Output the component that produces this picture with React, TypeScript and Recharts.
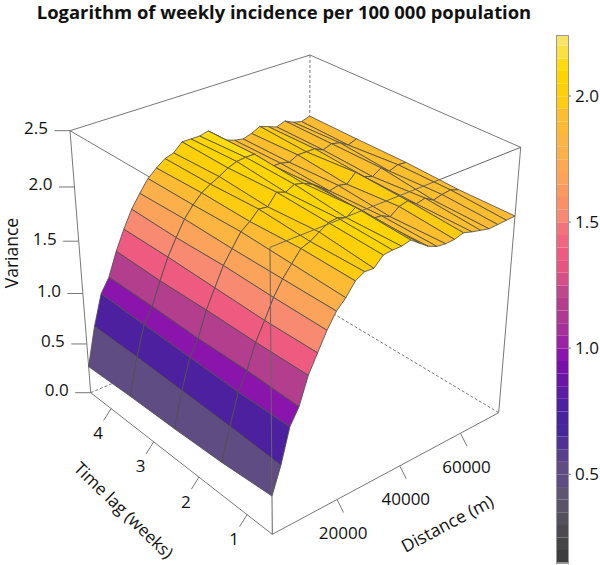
import React from 'react';
import { ScatterChart, Scatter, XAxis, YAxis, ComposedChart, Bar } from 'recharts';

const FONT = '"Open Sans", sans-serif';

// distance bins (m) and the lag edges of the surface strips
const distances = [0, 2700, 5400, 8100, 10800, 13500, 16200, 18900, 21600, 24300, 27000, 29700, 32400, 35100, 37800, 40500, 43200, 45900, 48600, 51300, 54000, 56700, 59400, 62100, 64800, 67500, 70200, 72900];
const lags = [0.5, 1.5, 2.5, 3.5, 4.5];

// variance per lag edge, one value per distance bin
const lag05 = [0.36, 0.6, 0.91, 1.05, 1.29, 1.45, 1.61, 1.74, 1.82, 1.93, 1.975, 1.97, 2.05, 2.06, 2.06, 2.08, 2.02, 1.96, 1.925, 1.915, 1.92, 1.945, 1.92, 1.9, 1.88, 1.885, 1.89, 1.895];
const lag15 = [0.32, 0.62, 0.9, 1.06, 1.28, 1.44, 1.61, 1.74, 1.84, 1.94, 1.97, 2.02, 2.07, 2.08, 2.05, 2.11, 2.04, 1.95, 1.94, 1.9, 1.96, 1.98, 1.92, 1.94, 1.89, 1.91, 1.92, 1.89];
const lag25 = [0.3, 0.63, 0.91, 1.05, 1.28, 1.45, 1.62, 1.74, 1.86, 1.92, 2.0, 1.99, 2.09, 2.06, 2.1, 2.08, 2.04, 1.98, 1.92, 1.94, 1.92, 2.0, 1.93, 1.9, 1.95, 1.89, 1.92, 1.91];
const lag35 = [0.29, 0.64, 0.92, 1.06, 1.27, 1.46, 1.61, 1.75, 1.85, 1.93, 1.98, 2.02, 2.07, 2.1, 2.11, 2.11, 2.02, 1.94, 1.94, 1.92, 1.96, 1.96, 1.96, 1.92, 1.95, 1.93, 1.88, 1.91];
const lag45 = [0.27, 0.64, 0.93, 1.06, 1.28, 1.46, 1.62, 1.74, 1.85, 1.92, 1.98, 2.005, 2.08, 2.08, 2.08, 2.1, 2.03, 1.96, 1.93, 1.915, 1.94, 1.98, 1.95, 1.92, 1.95, 1.91, 1.89, 1.915];
const surface = [lag05, lag15, lag25, lag35, lag45];

const varianceTicks = [0, 0.5, 1, 1.5, 2, 2.5];
const lagTicks = [1, 2, 3, 4];
const distanceTicks = [20000, 40000, 60000];
const colorbarTicks = [0.5, 1, 1.5, 2];

// colour scale: lower edge of each band and its colour
const levels = [0.15, 0.2, 0.25, 0.3, 0.35, 0.4, 0.45, 0.5, 0.55, 0.6, 0.65, 0.7, 0.75, 0.8, 0.85, 0.9, 0.95, 1.0, 1.05, 1.1, 1.15, 1.2, 1.25, 1.3, 1.35, 1.4, 1.45, 1.5, 1.55, 1.6, 1.65, 1.7, 1.75, 1.8, 1.85, 1.9, 1.95, 2.0, 2.05, 2.1, 2.15, 2.2];
const palette = ['#3d3d3f', '#454446', '#4c4a50', '#54505c', '#5b5468', '#5f5573', '#5e4c83', '#5e4c83', '#573f8c', '#503296', '#47289b', '#46249e', '#4d20a0', '#5c1ca4', '#6a14a8', '#7a10aa', '#8a14ac', '#9a24a4', '#a8309a', '#b03a92', '#b43e8e', '#c0478b', '#d84e86', '#e85482', '#ef5a80', '#f26580', '#f5717c', '#f88a72', '#f99068', '#fa9a60', '#fba35a', '#fbaa52', '#fbb04a', '#fbb540', '#fcbb33', '#fcbe2c', '#fdcb10', '#fed008', '#ffd500', '#ffdc10', '#fae040', '#f8e268'];

const colorFor = (v: number) => {
  let i = 0;
  while (i < palette.length - 1 && v >= levels[i + 1]) i++;
  return palette[i];
};

// box corners on screen: [distance end][lag end][variance end]
const corners = [
  [[[272.3, 534.3], [270, 247.3]], [[90.7, 392.7], [70, 130.7]]],
  [[[498.7, 412.7], [520.7, 147.3]], [[309, 299], [310, 55]]],
];
const maxDistance = 72900;
const warp = (t: number, k: number) => (t * k) / (1 + t * (k - 1));

function project(distance: number, lag: number, variance: number, dx = 0, dy = 0) {
  const a = warp(distance / maxDistance, 1.06);
  const b = warp((lag - 0.5) / 4, 1.13);
  const c = warp(variance / 2.5, 0.914);
  const mix = (k: number) => {
    let s = 0;
    for (const [i, wa] of [[0, 1 - a], [1, a]] as const)
      for (const [j, wb] of [[0, 1 - b], [1, b]] as const)
        for (const [l, wc] of [[0, 1 - c], [1, c]] as const) s += wa * wb * wc * corners[i][j][l][k];
    return s;
  };
  return { x: mix(0) + dx, y: mix(1) + dy };
}

const noDot = () => <g />;

function segment(key: string, pts: { x: number; y: number }[], stroke = '#777', dash?: string, width = 1) {
  return (
    <Scatter
      key={key}
      data={pts}
      shape={noDot}
      isAnimationActive={false}
      line={(p: any) => (
        <path
          d={'M' + p.points.map((q: any) => `${q.x},${q.y}`).join('L')}
          fill="none"
          stroke={stroke}
          strokeWidth={width}
          strokeDasharray={dash}
        />
      )}
    />
  );
}

function facet(key: string, pts: { x: number; y: number }[], fill: string) {
  return (
    <Scatter
      key={key}
      data={pts}
      shape={noDot}
      isAnimationActive={false}
      line={(p: any) => (
        <path
          d={'M' + p.points.map((q: any) => `${q.x},${q.y}`).join('L') + 'Z'}
          fill={fill}
          stroke="#504e4c"
          strokeWidth={0.85}
          strokeLinejoin="round"
        />
      )}
    />
  );
}

function label(key: string, text: string, at: { x: number; y: number }, opts: any = {}) {
  const { size = 17, weight = 400, angle = 0, anchor = 'middle' } = opts;
  return (
    <Scatter
      key={key}
      data={[at]}
      isAnimationActive={false}
      shape={(p: any) => (
        <text
          x={p.cx}
          y={p.cy}
          textAnchor={anchor}
          dominantBaseline="central"
          fontFamily={FONT}
          fontSize={size}
          fontWeight={weight}
          fill="#111"
          transform={angle ? `rotate(${angle} ${p.cx} ${p.cy})` : undefined}
        >
          {text}
        </text>
      )}
    />
  );
}

const D = maxDistance;
const L0 = lags[0];
const L1 = lags[lags.length - 1];

function surfaceFacets() {
  const out: React.ReactElement[] = [];
  for (let i = distances.length - 2; i >= 0; i--) {
    for (let j = lags.length - 2; j >= 0; j--) {
      const v = [surface[j][i], surface[j][i + 1], surface[j + 1][i + 1], surface[j + 1][i]];
      const mean = (v[0] + v[1] + v[2] + v[3]) / 4;
      out.push(
        facet(`f${i}-${j}`, [
          project(distances[i], lags[j], v[0]),
          project(distances[i + 1], lags[j], v[1]),
          project(distances[i + 1], lags[j + 1], v[2]),
          project(distances[i], lags[j + 1], v[3]),
        ], colorFor(mean)),
      );
    }
  }
  return out;
}

// colour bar: one stacked segment per band, starting from the bar's lower limit
const barMin = 0.149;
const barMax = 2.242;
const barRow: Record<string, number> = { base: barMin };
palette.forEach((_, i) => {
  const lo = Math.max(levels[i], barMin);
  const hi = i + 1 < levels.length ? levels[i + 1] : barMax;
  barRow[`b${i}`] = hi - lo;
});

export default function App() {
  return (
    <div style={{ position: 'absolute', left: 0, top: 0, width: 600, height: 565, background: '#fff' }}>
      <ScatterChart width={600} height={565} margin={{ top: 0, right: 0, bottom: 0, left: 0 }} style={{ position: 'absolute', left: 0, top: 0 }}>
        <XAxis type="number" dataKey="x" domain={[0, 600]} hide />
        <YAxis type="number" dataKey="y" domain={[0, 565]} reversed hide />

        {label('title', 'Logarithm of weekly incidence per 100 000 population', { x: 284, y: 11 }, { size: 18.4, weight: 700 })}

        {/* hidden edges of the box */}
        {segment('bk-v', [project(D, L1, 2.5), project(D, L1, 0)], '#777', '3 2')}
        {segment('bk-l', [project(0, L1, 0), project(D, L1, 0)], '#777', '3 2')}
        {segment('bk-r', [project(D, L0, 0), project(D, L1, 0)], '#777', '3 2')}
        {segment('top-b1', [project(0, L1, 2.5), project(D, L1, 2.5)])}
        {segment('top-b2', [project(D, L0, 2.5), project(D, L1, 2.5)])}
        {segment('top-f1', [project(0, L1, 2.5), project(0, L0, 2.5)])}
        {segment('v-l', [project(0, L1, 2.5), project(0, L1, 0)])}
        {segment('v-r', [project(D, L0, 2.5), project(D, L0, 0)])}

        {surfaceFacets()}

        {/* edges in front of the surface */}
        {segment('v-f', [project(0, L0, 2.5), project(0, L0, 0)], '#666')}
        {segment('top-f2', [project(0, L0, 2.5), project(D, L0, 2.5)], '#666')}
        {segment('bot-l', [project(0, L0, 0), project(0, L1, 0)])}
        {segment('bot-r', [project(0, L0, 0), project(D, L0, 0)])}

        {/* variance axis */}
        {varianceTicks.map((t) => segment(`vt${t}`, [project(0, L1, t), project(0, L1, t, -15.5, 0)]))}
        {varianceTicks.map((t) => label(`vl${t}`, t.toFixed(1), project(0, L1, t, -22, -3), { anchor: 'end' }))}
        {label('vtitle', 'Variance', { x: 11, y: 253 }, { angle: -90, size: 17.5 })}

        {/* lag axis */}
        {lagTicks.map((t) => segment(`lt${t}`, [project(0, t, 0), project(0, t, 0, -7.5, 12)]))}
        {lagTicks.map((t) => label(`ll${t}`, String(t), project(0, t, 0, -13, 24)))}
        {label('ltitle', 'Time lag (weeks)', { x: 124, y: 510 }, { angle: 44, size: 17 })}

        {/* distance axis */}
        {distanceTicks.map((t) => segment(`dt${t}`, [project(t, L0, 0), project(t, L0, 0, 6.5, 13)]))}
        {distanceTicks.map((t) => label(`dl${t}`, String(t), project(t, L0, 0, 6, 33)))}
        {label('dtitle', 'Distance (m)', { x: 447, y: 523 }, { angle: -28, size: 17.5 })}
      </ScatterChart>

      {/* colour bar */}
      <ComposedChart
        width={44}
        height={565}
        data={[barRow]}
        barCategoryGap={0}
        margin={{ top: 35, right: 0, bottom: 2.3, left: 0 }}
        style={{ position: 'absolute', left: 556, top: 0 }}
      >
        <XAxis type="category" hide />
        <YAxis
          orientation="right"
          type="number"
          domain={[barMin, barMax]}
          ticks={colorbarTicks}
          allowDataOverflow
          width={32}
          axisLine={false}
          tickSize={3}
          tickLine={{ stroke: '#777' }}
          tickFormatter={(v: number) => v.toFixed(1)}
          tick={{ fontFamily: FONT, fontSize: 17, fill: '#111', dx: 2 }}
        />
        <Bar dataKey="base" stackId="c" fill="none" isAnimationActive={false} />
        {palette.map((c, i) => (
          <Bar key={i} dataKey={`b${i}`} stackId="c" fill={c} isAnimationActive={false} />
        ))}
      </ComposedChart>
      <div style={{ position: 'absolute', left: 556, top: 35, width: 11, height: 526.7, border: '1px solid #999' }} />
    </div>
  );
}
